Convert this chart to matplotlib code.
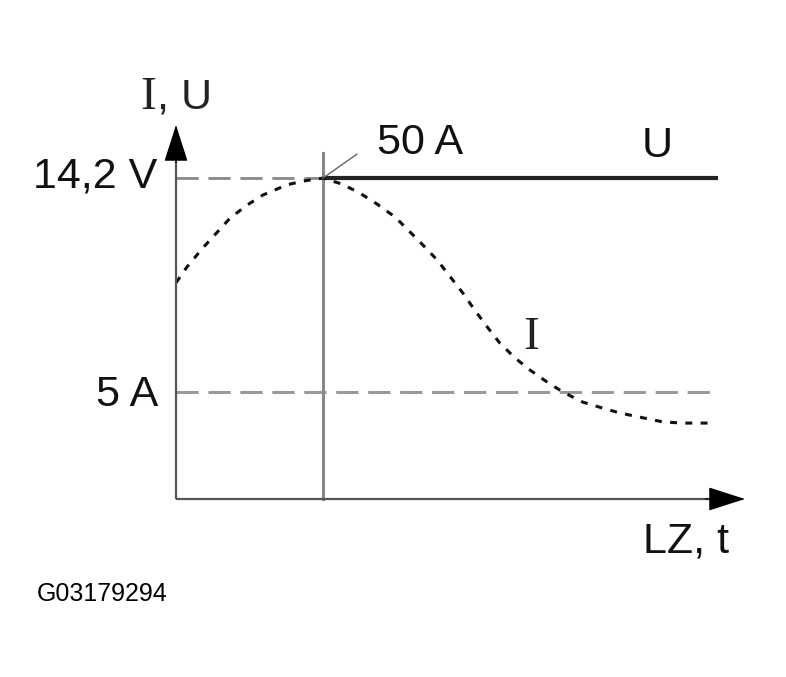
import matplotlib.pyplot as plt

plt.rcParams['font.family'] = ['Liberation Sans', 'DejaVu Sans']
plt.rcParams['lines.scale_dashes'] = False

# axis units: 0..100 along time and 0..100 along the value axis
t_current = [0, 1.9, 4.7, 9.5, 12.5, 15.3, 19.5, 22.3, 25.8, 29.2, 32.3, 35.3,
             38.5, 40.8, 43.4, 45.9, 48.2, 50.4, 52.5, 54.7, 56.9, 59.6, 62.2,
             65.2, 68.0, 71.5, 75.0, 78.0, 82.1, 85.6, 89.1, 92.6, 93.5]
i_current = [57.8, 62.0, 67.1, 75.1, 78.6, 81.3, 84.0, 85.0, 85.8, 84.2, 81.8,
             78.9, 75.4, 71.9, 67.9, 63.9, 59.4, 55.1, 50.5, 46.0, 41.7, 37.7,
             34.5, 31.3, 28.6, 25.9, 24.3, 23.0, 21.7, 20.6, 20.3, 20.3, 20.3]

u_level = 85.8      # 14,2 V
i_low = 28.6        # 5 A
t_switch = 25.8     # 50 A point
t_end = 95.3
switch_top = 92.5

fig = plt.figure(figsize=(7.86, 6.77), dpi=100)
ax = fig.add_axes([176 / 786, 178 / 677, 569 / 786, 374 / 677])
ax.set_xlim(0, 100)
ax.set_ylim(0, 100)
ax.axis('off')

# reference levels
ax.plot([0, t_switch], [u_level, u_level], color='#888888', lw=2, ls=(0, (16, 7)), clip_on=False)
ax.plot([0, t_end], [i_low, i_low], color='#999999', lw=2.2, ls=(0, (16, 7)), clip_on=False)
# voltage U
ax.plot([t_switch, t_end], [u_level, u_level], color='#222222', lw=3, solid_capstyle='butt', clip_on=False)
# switch point
ax.plot([t_switch, t_switch], [0, switch_top], color='#888888', lw=2.2, clip_on=False)
# current I
ax.plot(t_current, i_current, color='#111111', lw=2.2, ls=(0, (5, 6)), clip_on=False)
# leader line to 50 A
ax.plot([t_switch, t_switch + 6], [u_level, u_level + 6.4], color='#666666', lw=1, clip_on=False)

# axes with arrows
ax.plot([0, 95], [0, 0], color='#555555', lw=1.6, solid_capstyle='butt', clip_on=False)
ax.plot([0, 0], [0, 95], color='#555555', lw=1.6, solid_capstyle='butt', clip_on=False)
arrow = dict(arrowstyle='-|>,head_length=1.0,head_width=0.32', color='black',
             lw=0.8, mutation_scale=24, shrinkA=0, shrinkB=0)
ax.annotate('', xy=(100, 0), xytext=(93, 0), arrowprops=arrow, annotation_clip=False)
ax.annotate('', xy=(0, 100), xytext=(0, 90), arrowprops=arrow, annotation_clip=False)

fs = 31
ax.text(-4.9, 104.3, 'I', fontsize=34, family='Liberation Serif', ha='center', va='baseline', color='#222222')
ax.text(-3.3, 104.3, ', U', fontsize=fs, ha='left', va='baseline', color='#222222')
ax.text(-3.3, 83.2, '14,2 V', fontsize=fs, ha='right', va='baseline', color='#111111')
ax.text(-3.2, 24.9, '5 A', fontsize=fs, ha='right', va='baseline', color='#111111')
ax.text(35.3, 92.2, '50 A', fontsize=fs, ha='left', va='baseline', color='#111111')
ax.text(84.6, 91.4, 'U', fontsize=fs, ha='center', va='baseline', color='#111111')
ax.text(62.4, 40.1, 'I', fontsize=34, family='Liberation Serif', ha='center', va='baseline', color='#222222')
ax.text(82.1, -14.2, 'LZ, t', fontsize=fs, ha='left', va='baseline', color='#111111')

fig.text(37 / 786, 1 - 601 / 677, 'G03179294', fontsize=18, ha='left', va='baseline', color='black')

fig.savefig('out.png', dpi=100)
